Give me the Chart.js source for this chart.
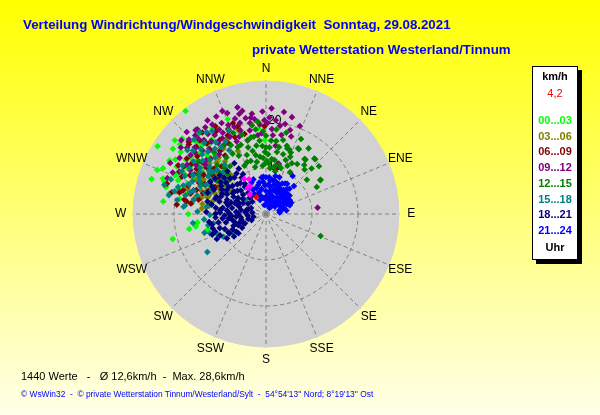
<!DOCTYPE html>
<html>
<head>
<meta charset="utf-8">
<script src="https://cdn.jsdelivr.net/npm/chart.js@4"></script>
<style>
  body { margin: 0; }
  #wrap {
    position: relative; width: 600px; height: 415px; overflow: hidden;
    background: linear-gradient(#ffff00, #ffffe8);
    font-family: "Liberation Sans", Arial, sans-serif;
  }
  #chart { position: absolute; left: 0; top: 0; }
  .t { position: absolute; white-space: pre; }
  .title { font-size: 13.3px; font-weight: bold; color: #0000ff; line-height: 15px; }
  #legend {
    position: absolute; left: 532px; top: 66px; width: 44px; height: 192px;
    background: #fff; border: 1px solid #000; box-shadow: 4px 4px 0 #000;
  }
  #legend div { position: absolute; left: 0; width: 44px; text-align: center;
    font-size: 11px; font-weight: bold; line-height: 14px; }
</style>
</head>
<body>
<div id="wrap">
  <canvas id="chart" width="600" height="415"></canvas>
  <div class="t title" style="left:23px;top:17px">Verteilung Windrichtung/Windgeschwindigkeit  Sonntag, 29.08.2021</div>
  <div class="t title" style="left:252px;top:42px">private Wetterstation Westerland/Tinnum</div>
  <div id="legend"></div>
  <div class="t" style="left:21px;top:370px;font-size:11px;color:#000">1440 Werte   -   Ø 12,6km/h  -  Max. 28,6km/h</div>
  <div class="t" style="left:21px;top:389px;font-size:8.4px;color:#0000ff">© WsWin32  -  © private Wetterstation Tinnum/Westerland/Sylt  -  54°54'13'' Nord; 8°19'13'' Ost</div>
</div>
<script>
// wind readings as [direction in degrees, speed in km/h], one array per 3 hours
const h00_03 = [[322,28.4],[338,22.2],[302,27.8],[305,24.7],[309,24.1],[292,25.5],[289,23.7],[282,21.5],[277,22.5],[270,16.9],
  [263,15.0],[259,17.0],[255,21.0],[260,15.5],[255,13.2],[312,24.5],[314,22.8],[320,22.7],[306,22.9],[293,21.5],
  [300,20.1],[302,19.5],[298,15.5],[320,19.5],[297,13.7],[328,21.9],[316,21.6],[298,22.0],[298,18.2],[355,18.7],
  [359,16.1],[288,23.3],[282,21.4],[284,17.7],[278,16.3],[294,21.2],[305,17],[310,16],[300,16.5],[315,18],
  [308,19],[296,17.5],[312,14.5],[318,15.5],[303,14],[325,17],[290,18.5],[307,20.5],
  [301,23],[304,21],[311,21],[317,20.5],[313,19.5],[296,19.5],[291,20.5],[286,19.8],[319,17],[324,20],
  [299,24],[294,24.5],[309,25.5],[285,22.5],[280,19],[287,26]];
const h03_06 = [[287,13.1],[281,12.3],[293,10.5],[341,19.7],[342,19],[303,16.3],[271,10.9],[286,13.3],[300,12],[305,11],
  [298,13],[310,12.5],[295,14.5],[302,9.5],[308,14],[315,13],[290,15],[284,14.5],[320,16],[327,17],
  [333,18.5],[312,16.5],[296,11],[278,12.5],[299,15.5],[306,10],[318,11.5],[292,12],[275,14],[336,15],
  [291,13.8],[294,12.8],[297,10],[301,14],[304,12.6],[307,13.2],[311,14.8],[314,10.8],[288,11],[283,12],
  [279,14],[296,16.8],[301,17.2],[309,15.8],[316,15.5],[322,14.5],[289,13],[299,11.8],[304,9],[312,11.2],
  [282,16],[288,18],[285,19]];
const h06_09 = [[284,19.4],[278,16.5],[300,20.7],[359,19.1],[14,10.4],[336,20.2],[286,18.7],[312,22.6],[303,18],[306,14.5],
  [282,15],[288,14.4],[320,20],[328,19],[315,17],[310,19.5],[295,16],[325,15.5],[332,17.5],[305,21],
  [318,21.5],[297,18.5],[340,21],[308,16.5],[292,13.5],[345,18],[322,22.5],[300,14],
  [290,18],[294,20],[299,21.8],[304,19.5],[309,17.8],[314,21],[319,18.5],[324,17],[329,21],[334,19],
  [338,18],[342,20],[285,17],[289,16],[296,14.8],[302,16],[311,15],[317,14.2],[323,19.8],[330,22],
  [280,18],[276,19.5],[313,23],[298,12.5],[306,12.8],[283,21],[287,22.5],[279,17.5]];
const h09_12 = [[348,21.3],[15,21.8],[9,19.4],[18,17.7],[83,11.3],[321,23.7],[290,22.8],[350,20.1],[4,18.5],[340,20.2],
  [357,17.6],[5,17.2],[14,11.3],[333,23.8],[329,22.7],[331,21],[314,23.3],[311,20.5],[337,21],[323,19.7],
  [311,24.4],[310,22.4],[288,16.6],[345,22.5],[343,19],[335,18.5],[327,20.5],[318,22],[325,23],[352,22],
  [2,21],[356,19.5],[338,17],[330,19],[320,21],[305,18.5],[315,19.5],[8,15],[300,19],[296,21],
  [346,16.5],[10,22.5],[312,17.5],[322,16.5],
  [318,23],[324,21.5],[328,24],[334,22],[339,23.5],[342,21.8],[347,23],[353,20.8],[358,22.3],[1,19.8],
  [6,20.5],[12,20],[16,19],[344,20.6],[336,19.8],[326,18.6],[319,18.8],[313,21.2],[308,23.5],[303,22.4],
  [298,23.6],[294,22.2],[316,24.8],[332,20],[349,18.5],[354,17.2],[341,17.8],[329,17.6],[308,20.8],[302,20.2],
  [320,23.8],[337,24.3],[345,24],[351,21.2],[359,20.4],[3,23],[11,17.5],[21,20.5],[309,17],[299,17.8]];
const h12_15 = [[345,15],[350,13],[355,16],[3,14.5],[5,10],[15,11],[20,12.5],[13,16.5],[340,12],[347,10.5],
  [354,12.5],[0,17],[340,16],[335,14],[343,18],[7,18.5],[351,19.5],[348,14],[352,15],[357,14.8],
  [2,13],[6,12],[11,14.8],[16,13.5],[358,18],[353,18.5],[346,16.5],[342,13.5],[337,15.8],[333,16.8],
  [1,11.5],[356,10.5],[350,11.5],[12,9.5],[18,10.5],[10,13.7],[359,13.5],[359,11],[9,11.9],[351,17],
  [355,20.1],[338,19],[344,12],[349,17],[4,16],[8,16],[14,18.2],[17,15.5],[336,11.5],[331,15],
  [328,17.5],[0,14.5],[357,12.2],[3,11],[10,10.5],
  [58,13.9],[41,16],[35,14.6],[27,15.8],[20,14.9],[112,12.8],[18,15],[26,15.9],[42,16],[27,12.4],
  [36,14.6],[32,12.8],[41,12.8],[50,11.6],[58,14],[22,14.4],[30,10.5],[45,14],[33,17],[48,15.5],
  [25,18],[23,13.5],[38,13.5],[62,12.5],[24,11.5],
  [325,15],[320,17.5],[315,15],[304,13],[310,11],[318,13.5],[323,13],[316,12],[312,14],[306,15],
  [300,17],[295,15.5],[308,18.5]];
const h15_18 = [[237,15.2],[253,14],[251,12.9],[259,12.8],[240,8.2],[301,19.4],[312,14.4],[272,14.9],[321,22.9],[242,10.5],
  [260,11.6],[276,17.7],[269,12.2],[289,19],[304,5.5],[296,16],[305,17.5],[310,18],[315,20],[300,14],
  [292,13],[285,15.5],[318,16.5],[325,19],[308,12],[298,18],[280,12],[294,17.5],[303,15],[314,17],
  [320,14],[330,16],[311,21],[297,20.5],[288,16.5],[306,19.5],[283,18],[327,21.5],[265,13.5],[248,11.5],[299,10.5],
  [302,17],[307,15.5],[313,19],[317,18.5],[322,18],[326,17.5],[331,18],[336,20],[291,18],[287,20],
  [295,19.5],[300,21],[309,22],[316,22.5],[304,13.5],[296,14.5],[289,14],[281,16],[277,13],[284,20.5],
  [310,16],[319,20.5],[324,22],[299,16.5],[293,15.5],[314,13],[308,14.8],[286,17.2],[279,19.5],[263,16],
  [281,21.5],[275,18],[290,22],[286,23]];
const h18_21 = [[242,9],[235,7.3],[263,8.2],[246,5],[247,3.4],[251,11.7],[275,10],[289,7.1],[282,4.3],[301,10],
  [320,8.7],[289,11.4],[258,8.9],[244,9.1],[248,5.3],[258,2.8],[310,13.1],[324,10.9],[270,6],[280,7.5],
  [290,9],[300,7],[310,9.5],[315,11],[305,12],[295,5.5],[285,10.5],[275,8.5],[265,6.5],[255,7],
  [250,9.5],[260,10.5],[270,11],[280,12],[295,12.5],[300,4.5],[310,6.5],[320,6],[325,8],[330,10],
  [315,5],[305,8.5],[295,10.5],[285,6],[275,4.5],[265,4],[252,6],[240,6],[245,11],[255,12],
  [268,9],[278,9.5],[288,8],[298,8],[308,11],[318,12.5],[328,13],[300,14],[290,13.5],[282,13],
  [292,3.5],[312,4],[322,5],[262,12.5],[272,13],[238,10],[235,8.5],
  [245,8],[250,7.5],[253,10.5],[257,5.5],[261,7.5],[264,9.5],[267,7.5],[271,8],[274,6.5],[277,11],
  [279,5.5],[283,8.5],[286,9],[288,6.5],[291,10.5],[294,7],[297,9.5],[299,11],[302,8.5],[303,6],
  [306,10],[309,8],[311,12],[313,7.5],[316,9],[319,10.5],[322,7.5],[326,9.5],[329,11.5],[272,10],
  [266,11],[259,12],[249,12.5],[243,12],[287,11.5],[297,13.2],[305,13.5],[284,4],[276,3],[262,5.5],
  [254,4],[239,7.5],[248,6.5],[292,6.3],[302,11.5]];
const h21_24 = [[353,8],[7,7.4],[23,6],[51,2.5],[337,3.3],[325,6.8],[35,8.0],[40,7.0],[45,5.8],[59,5.2],
  [356,8.1],[10,5],[20,4],[30,3],[40,4.5],[50,4],[60,3.5],[15,6.5],[25,7],[35,5.5],
  [30,6.3],[45,6.4],[55,5.6],[65,5],[70,4],[5,3],[0,5],[350,5.5],[345,4],[340,6],
  [20,2],[35,2],[10,7.5],[28,7.5],[60,6],[15,3.5],[0,2],[355,7],[25,5.2],[40,6.3],
  [12,4.6],[48,5.5],[33,4.2],[18,7.3],[62,4.5],[70,5.5],[80,4.5],[75,3],[5,8],[330,5],
  [335,7.5],[3,4],[8,6],[13,7.5],[17,5.5],[22,3],[26,6.2],[31,5.2],[38,3.5],[42,5.2],
  [47,3],[52,5],[57,4.5],[66,6],[72,3.8],[78,3.2],[358,6.2],[352,3.5],[348,7],[343,5],
  [338,4.5],[0,8],[5,6.5],[10,3],[14,8.5],[19,7],[24,4],[28,5.8],[32,7.8],[36,6.5],
  [43,7.5],[52,6.5],[84,3],[2,3],[30,1.5],[345,6.5],[332,6],[340,8],[20,8.5],[350,2],
  [35,10.1],[45,8.6]];
const lastHour = [[334,8.4],[325,6.9],[320,5.5],[330,7],[328,9]];
const current = [[330,4.2]];

const binLabels = ["00...03", "03...06", "06...09", "09...12", "12...15", "15...18", "18...21", "21...24"];
const binColors = ["#00ff00", "#808000", "#800000", "#800080", "#008000", "#008080", "#000080", "#0000ff"];
const bins = [h00_03, h03_06, h06_09, h09_12, h12_15, h15_18, h18_21, h21_24];

const dirLabels = ["N", "NNE", "NE", "ENE", "E", "ESE", "SE", "SSE", "S", "SSW", "SW", "WSW", "W", "WNW", "NW", "NNW"];
const rings = [10, 20];
const maxSpeed = 29;
const currentSpeed = "4,2";

// legend box
const legend = document.getElementById("legend");
const addLine = (text, top, color, bold) => {
  const d = document.createElement("div");
  d.textContent = text;
  d.style.top = top + "px";
  d.style.color = color;
  if (!bold) d.style.fontWeight = "normal";
  legend.appendChild(d);
};
addLine("km/h", 2, "#000", true);
addLine(currentSpeed, 19, "#ff0000", false);
binLabels.forEach((l, i) => addLine(l, 46 + i * 15.7, binColors[i], true));
addLine("Uhr", 173, "#000", true);

const toXY = ([d, s]) => ({ x: s * Math.sin(d * Math.PI / 180), y: s * Math.cos(d * Math.PI / 180) });

const polarGrid = {
  id: "polarGrid",
  beforeDatasetsDraw(chart) {
    const { ctx, scales: { x, y } } = chart;
    const cx = x.getPixelForValue(0), cy = y.getPixelForValue(0);
    const px = v => x.getPixelForValue(v) - cx;
    const R = px(maxSpeed);
    ctx.save();
    ctx.fillStyle = "#d2d2d2";
    ctx.beginPath();
    ctx.arc(cx, cy, R, 0, Math.PI * 2);
    ctx.fill();
    ctx.strokeStyle = "#808080";
    ctx.lineWidth = 1;
    ctx.setLineDash([4, 3]);
    rings.forEach(r => {
      ctx.beginPath();
      ctx.arc(cx, cy, px(r), 0, Math.PI * 2);
      ctx.stroke();
    });
    dirLabels.forEach((l, i) => {
      const a = i * Math.PI / 8;
      ctx.beginPath();
      ctx.moveTo(cx, cy);
      ctx.lineTo(cx + R * Math.sin(a), cy - R * Math.cos(a));
      ctx.stroke();
    });
    ctx.setLineDash([]);
    ctx.fillStyle = "#000";
    ctx.font = "12px 'Liberation Sans', Arial, sans-serif";
    ctx.textAlign = "center";
    ctx.textBaseline = "middle";
    const L = px(31.6);
    dirLabels.forEach((l, i) => {
      const a = i * Math.PI / 8;
      ctx.fillText(l, cx + L * Math.sin(a), cy - L * Math.cos(a));
    });
    ctx.textAlign = "left";
    rings.forEach(r => ctx.fillText(String(r), cx + 2, cy - px(r) - 1));
    ctx.restore();
  }
};

const datasets = bins.map((b, i) => ({
  label: binLabels[i],
  data: b.map(toXY),
  backgroundColor: binColors[i],
  order: 10 - i
}));
datasets.push({ label: "letzte Stunde", data: lastHour.map(toXY), backgroundColor: "#ff00ff", order: 1 });
datasets.push({ label: "aktuell", data: current.map(toXY), backgroundColor: "#ff0000", order: 0 });
datasets.forEach(d => Object.assign(d, { pointStyle: "rectRot", pointRadius: 3.3, borderWidth: 0, clip: false }));

new Chart(document.getElementById("chart"), {
  type: "scatter",
  data: { datasets },
  options: {
    responsive: false,
    animation: false,
    layout: { padding: { left: 132.6, right: 200.6, top: 80.6, bottom: 67.6 } },
    scales: {
      x: { type: "linear", min: -maxSpeed, max: maxSpeed, display: false },
      y: { type: "linear", min: -maxSpeed, max: maxSpeed, display: false }
    },
    plugins: { legend: { display: false }, tooltip: { enabled: false } }
  },
  plugins: [polarGrid]
});
</script>
</body>
</html>
